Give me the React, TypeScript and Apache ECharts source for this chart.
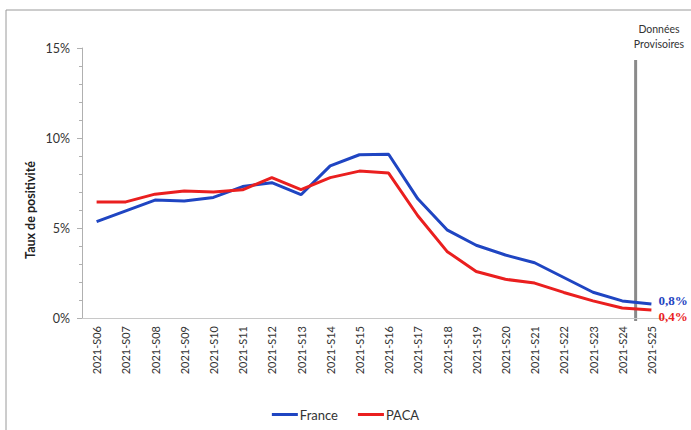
import React, { useEffect, useRef } from "react";
import * as echarts from "echarts";

const categories = [
  "2021-S06", "2021-S07", "2021-S08", "2021-S09", "2021-S10", "2021-S11", "2021-S12",
  "2021-S13", "2021-S14", "2021-S15", "2021-S16", "2021-S17", "2021-S18", "2021-S19",
  "2021-S20", "2021-S21", "2021-S22", "2021-S23", "2021-S24", "2021-S25",
];
const france = [5.35, 5.95, 6.55, 6.5, 6.7, 7.3, 7.52, 6.85, 8.45, 9.07, 9.1, 6.62, 4.9, 4.04, 3.5, 3.07, 2.25, 1.43, 0.95, 0.78];
const paca = [6.45, 6.45, 6.88, 7.06, 7.0, 7.12, 7.8, 7.13, 7.8, 8.16, 8.05, 5.68, 3.7, 2.58, 2.15, 1.94, 1.42, 0.95, 0.56, 0.45];
const franceEnd = "0,8%";
const pacaEnd = "0,4%";
const yTicks = [0, 5, 10, 15];
const yName = "Taux de positivité";
const noteLines = ["Données", "Provisoires"];

const BLUE = "#1f45c2";
const RED = "#ea1f1f";
const FONT = "Lato, 'Open Sans', sans-serif";

export default function App() {
  const ref = useRef<HTMLDivElement>(null);
  useEffect(() => {
    document.body.style.margin = "0";
    const chart = echarts.init(ref.current!, null, { renderer: "svg" });
    chart.setOption({
      animation: false,
      textStyle: { fontFamily: FONT },
      grid: { left: 82, right: 25, top: 48, bottom: 112, containLabel: false },
      legend: {
        bottom: 4,
        left: "center",
        icon: "rect",
        itemWidth: 26,
        itemHeight: 3,
        itemGap: 20,
        textStyle: { fontSize: 13, color: "#333", fontFamily: FONT, padding: [0, 0, 0, -3] },
        data: ["France", "PACA"],
      },
      xAxis: {
        type: "category",
        data: categories,
        boundaryGap: true,
        axisLine: { lineStyle: { color: "#c8c8c8", width: 1 } },
        axisTick: { show: false },
        axisLabel: { rotate: 90, fontSize: 11, color: "#333", margin: 8, fontFamily: FONT },
      },
      yAxis: {
        type: "value",
        min: yTicks[0],
        max: yTicks[yTicks.length - 1],
        interval: 5,
        splitLine: { show: false },
        axisLine: { show: true, lineStyle: { color: "#b0b0b0", width: 1 } },
        axisTick: { show: true, length: 5, lineStyle: { color: "#b0b0b0" } },
        minorTick: { show: true, splitNumber: 5, length: 3, lineStyle: { color: "#b0b0b0" } },
        axisLabel: { formatter: "{value}%", fontSize: 12.5, color: "#333", margin: 12, fontFamily: FONT },
      },
      series: [
        {
          name: "France",
          type: "line",
          data: france,
          symbol: "none",
          lineStyle: { color: BLUE, width: 3 },
          itemStyle: { color: BLUE },
          endLabel: {
            show: true,
            formatter: () => franceEnd,
            color: BLUE,
            fontWeight: "bold",
            fontSize: 13,
            fontFamily: "'Liberation Serif', 'DejaVu Serif', serif",
            distance: 7,
            offset: [0, -3],
          },
        },
        {
          name: "PACA",
          type: "line",
          data: paca,
          symbol: "none",
          lineStyle: { color: RED, width: 3 },
          itemStyle: { color: RED },
          endLabel: {
            show: true,
            formatter: () => pacaEnd,
            color: RED,
            fontWeight: "bold",
            fontSize: 13,
            fontFamily: "'Liberation Serif', 'DejaVu Serif', serif",
            distance: 7,
            offset: [0, 7],
          },
        },
      ],
    });
    const x24 = chart.convertToPixel({ xAxisIndex: 0 }, categories[18]) as number;
    const x25 = chart.convertToPixel({ xAxisIndex: 0 }, categories[19]) as number;
    const lx = x24 + 0.46 * (x25 - x24);
    chart.setOption({
      graphic: [
        {
          type: "rect",
          shape: { x: 6, y: 10, width: 720, height: 460 },
          style: { fill: "none", stroke: "#9a9a9a", lineWidth: 1 },
          silent: true,
        },
        {
          type: "line",
          shape: { x1: lx, y1: 60, x2: lx, y2: 321 },
          style: { stroke: "#8a8a8a", lineWidth: 3 },
          silent: true,
        },
        {
          type: "text",
          x: 659,
          y: 36,
          style: {
            text: noteLines.join("\n"),
            fontSize: 10.5,
            lineHeight: 15,
            fill: "#333",
            align: "center",
            verticalAlign: "middle",
            fontFamily: FONT,
          },
        },
        {
          type: "text",
          x: 30,
          y: 210,
          rotation: Math.PI / 2,
          style: {
            text: yName,
            fontSize: 12.5,
            fontWeight: "bold",
            fill: "#222",
            align: "center",
            verticalAlign: "middle",
            fontFamily: FONT,
          },
        },
      ],
    });
    return () => chart.dispose();
  }, []);
  return <div ref={ref} style={{ width: 691, height: 430 }} />;
}
